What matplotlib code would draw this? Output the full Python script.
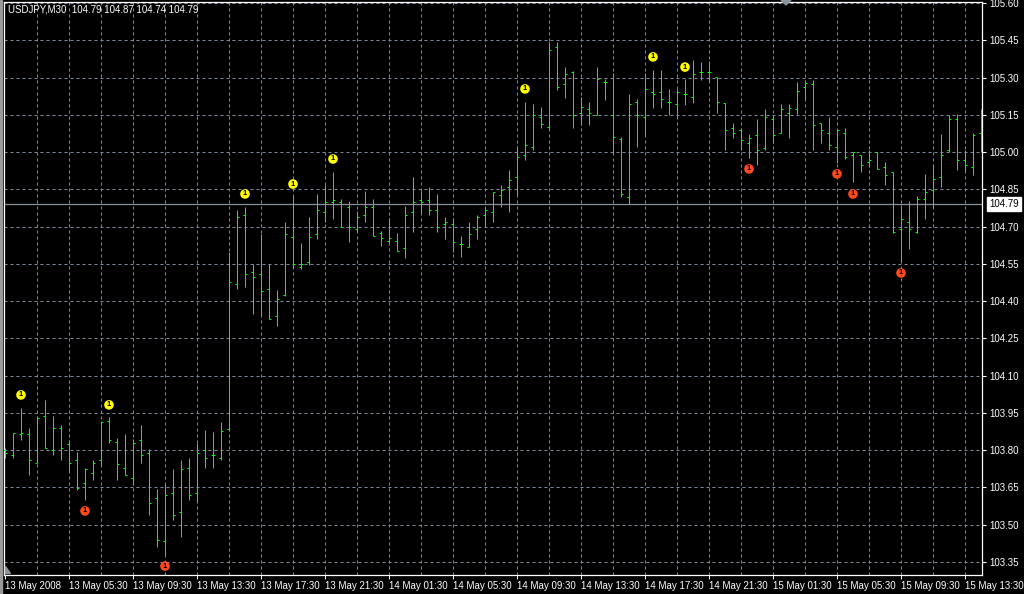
import matplotlib
matplotlib.use("Agg")
import matplotlib.pyplot as plt
from matplotlib.patches import Polygon, Rectangle
import numpy as np

# ---------------- data ----------------
symbol_header = "USDJPY,M30  104.79 104.87 104.74 104.79"

opens = [103.800, 103.780, 103.863, 103.863, 103.749, 103.939, 103.800, 103.890, 103.823, 103.761,
         103.669, 103.709, 103.761, 103.917, 103.832, 103.729, 103.689, 103.840, 103.789, 103.609,
         103.432, 103.629, 103.552, 103.729, 103.629, 103.801, 103.781, 103.769, 103.883, 104.470,
         104.747, 104.518, 104.510, 104.450, 104.341, 104.423, 104.659, 104.538, 104.558, 104.671,
         104.759, 104.800, 104.800, 104.780, 104.692, 104.748, 104.780, 104.672, 104.640, 104.640,
         104.612, 104.760, 104.808, 104.807, 104.767, 104.711, 104.711, 104.630, 104.617, 104.691,
         104.747, 104.759, 104.827, 104.859, 104.900, 104.990, 105.022, 105.139, 105.099, 105.422,
         105.272, 105.321, 105.159, 105.172, 105.151, 105.280, 105.151, 105.052, 104.820, 105.200,
         105.139, 105.240, 105.240, 105.200, 105.192, 105.232, 105.220, 105.321, 105.321, 105.301,
         105.199, 105.098, 105.090, 105.038, 105.070, 105.018, 105.131, 105.078, 105.159, 105.172,
         105.260, 105.273, 105.118, 105.078, 105.022, 105.078, 104.989, 104.989, 104.961, 105.001,
         104.941, 104.921, 104.691, 104.719, 104.679, 104.809, 104.849, 104.901, 105.009, 105.131,
         104.969, 104.941, 105.078]
highs = [103.809, 103.870, 103.970, 103.890, 103.937, 104.000, 103.939, 103.899, 103.839, 103.792,
         103.729, 103.762, 103.919, 103.933, 103.850, 103.863, 103.843, 103.899, 103.803, 103.642,
         103.662, 103.722, 103.762, 103.769, 103.829, 103.879, 103.872, 103.912, 104.598, 104.768,
         104.779, 104.550, 104.671, 104.550, 104.443, 104.720, 104.822, 104.632, 104.740, 104.829,
         104.869, 104.921, 104.809, 104.801, 104.761, 104.843, 104.809, 104.681, 104.735, 104.673,
         104.781, 104.901, 104.843, 104.861, 104.829, 104.739, 104.735, 104.660, 104.719, 104.747,
         104.780, 104.841, 104.867, 104.928, 105.024, 105.200, 105.193, 105.180, 105.442, 105.442,
         105.341, 105.328, 105.220, 105.200, 105.341, 105.294, 105.317, 105.059, 105.233, 105.213,
         105.317, 105.330, 105.330, 105.254, 105.254, 105.294, 105.371, 105.364, 105.367, 105.301,
         105.199, 105.118, 105.098, 105.071, 105.132, 105.172, 105.148, 105.192, 105.192, 105.280,
         105.291, 105.291, 105.118, 105.139, 105.092, 105.098, 105.001, 104.989, 105.009, 105.001,
         104.961, 104.921, 104.788, 104.801, 104.821, 104.910, 104.953, 105.071, 105.148, 105.152,
         105.009, 105.078, 105.172]
lows = [103.767, 103.767, 103.840, 103.700, 103.746, 103.809, 103.780, 103.760, 103.713, 103.639,
        103.599, 103.680, 103.736, 103.829, 103.680, 103.700, 103.658, 103.746, 103.538, 103.410,
        103.374, 103.517, 103.451, 103.599, 103.591, 103.726, 103.726, 103.760, 103.876, 104.447,
        104.456, 104.347, 104.340, 104.329, 104.300, 104.420, 104.534, 104.530, 104.547, 104.648,
        104.717, 104.729, 104.700, 104.639, 104.679, 104.719, 104.660, 104.620, 104.632, 104.600,
        104.572, 104.679, 104.753, 104.746, 104.677, 104.649, 104.597, 104.577, 104.617, 104.649,
        104.703, 104.717, 104.778, 104.758, 104.822, 104.968, 105.009, 105.098, 105.092, 105.251,
        105.219, 105.096, 105.110, 105.110, 105.151, 105.211, 104.998, 104.820, 104.790, 105.022,
        105.065, 105.178, 105.178, 105.151, 105.138, 105.189, 105.197, 105.291, 105.287, 105.157,
        105.008, 105.057, 105.008, 104.977, 104.948, 105.008, 105.038, 105.078, 105.057, 105.152,
        105.210, 105.008, 105.038, 105.008, 104.957, 104.970, 104.879, 104.919, 104.941, 104.930,
        104.867, 104.672, 104.558, 104.610, 104.672, 104.731, 104.775, 104.859, 105.001, 104.927,
        104.919, 104.907, 105.001]
closes = [103.789, 103.870, 103.870, 103.761, 103.930, 103.809, 103.890, 103.809, 103.749, 103.649,
          103.722, 103.749, 103.912, 103.840, 103.742, 103.700, 103.830, 103.780, 103.588, 103.438,
          103.619, 103.540, 103.722, 103.621, 103.789, 103.769, 103.781, 103.876, 104.478, 104.739,
          104.510, 104.498, 104.442, 104.329, 104.410, 104.671, 104.550, 104.550, 104.659, 104.767,
          104.799, 104.808, 104.700, 104.700, 104.740, 104.780, 104.660, 104.652, 104.652, 104.600,
          104.748, 104.800, 104.800, 104.767, 104.699, 104.719, 104.638, 104.630, 104.671, 104.739,
          104.767, 104.839, 104.847, 104.888, 104.980, 105.030, 105.151, 105.111, 105.410, 105.260,
          105.313, 105.151, 105.180, 105.159, 105.293, 105.280, 105.059, 104.830, 105.192, 105.151,
          105.252, 105.232, 105.212, 105.200, 105.240, 105.232, 105.313, 105.321, 105.321, 105.200,
          105.090, 105.078, 105.050, 105.058, 105.009, 105.139, 105.070, 105.172, 105.179, 105.246,
          105.277, 105.110, 105.090, 105.030, 105.090, 104.981, 105.001, 104.949, 104.969, 104.930,
          104.909, 104.679, 104.731, 104.691, 104.809, 104.840, 104.890, 104.989, 105.131, 104.969,
          104.949, 105.070, 105.060]

up_signal_bars = [2, 13, 30, 36, 41, 65, 81, 85]
up_signal_prices = [104.022, 103.982, 104.831, 104.871, 104.972, 105.254, 105.383, 105.342]
down_signal_bars = [10, 20, 93, 104, 106, 112]
down_signal_prices = [103.555, 103.333, 104.932, 104.912, 104.831, 104.513]

time_label_bars = [0, 8, 16, 24, 32, 40, 48, 56, 64, 72, 80, 88, 96, 104, 112, 120]
time_labels = ['13 May 2008', '13 May 05:30', '13 May 09:30', '13 May 13:30', '13 May 17:30',
               '13 May 21:30', '14 May 01:30', '14 May 05:30', '14 May 09:30', '14 May 13:30',
               '14 May 17:30', '14 May 21:30', '15 May 01:30', '15 May 05:30', '15 May 09:30',
               '15 May 13:30']
price_ticks = [103.35, 103.50, 103.65, 103.80, 103.95, 104.10, 104.25, 104.40, 104.55,
               104.70, 104.85, 105.00, 105.15, 105.30, 105.45, 105.60]
bid_price = 104.79

# ---------------- style ----------------
W, H = 1024, 594
BAR = '#00ff00'
GRID = '#7d8a9a'
FONT = ['Liberation Sans', 'DejaVu Sans']
FS = 7

fig = plt.figure(figsize=(W / 100, H / 100), dpi=100, facecolor='black')
ax_left, ax_right, ax_top, ax_bottom = 4, 982, 2, 575
ax = fig.add_axes([ax_left / W, (H - ax_bottom) / H, (ax_right - ax_left) / W, (ax_bottom - ax_top) / H])
ax.set_facecolor('black')

x = np.arange(len(opens))
ax.set_xlim(-0.125, len(opens) - 1 + 0.125)
ax.set_ylim(103.297, 105.604)

# grid
for p in price_ticks:
    ax.axhline(p, color=GRID, lw=0.72, ls=(0, (3, 3)), zorder=1)
for b in range(4, len(opens), 4):
    ax.axvline(b, color=GRID, lw=0.72, ls=(0, (3, 3)), zorder=1)

# bid line
ax.axhline(bid_price, color='#8a9098', lw=0.9, zorder=2)

# OHLC bars
tick = 0.3
LW = 0.72
for xi, o, h, l, c in zip(x, opens, highs, lows, closes):
    ax.plot([xi, xi], [l, h], color=BAR, lw=LW, solid_capstyle='butt', snap=True, zorder=3)
    ax.plot([xi - tick, xi], [o, o], color=BAR, lw=LW, solid_capstyle='butt', snap=True, zorder=3)
    ax.plot([xi, xi + tick], [c, c], color=BAR, lw=LW, solid_capstyle='butt', snap=True, zorder=3)

# signal markers
for bx, py in zip(up_signal_bars, up_signal_prices):
    ax.scatter([bx], [py], s=48, color='#ffff00', edgecolors='none', zorder=5)
    ax.text(bx, py, '1', color='black', fontsize=5.5, fontweight='bold', ha='center', va='center',
            family=FONT, zorder=6)
for bx, py in zip(down_signal_bars, down_signal_prices):
    ax.scatter([bx], [py], s=48, color='#ff4a1a', edgecolors='none', zorder=5)
    ax.text(bx, py, '1', color='black', fontsize=5.5, fontweight='bold', ha='center', va='center',
            family=FONT, zorder=6)

# spines
for s in ax.spines.values():
    s.set_color('white')
    s.set_linewidth(0.9)

# axes ticks
ax.yaxis.tick_right()
ax.set_yticks(price_ticks)
ax.set_yticklabels([f'{p:.2f}' for p in price_ticks], color='white', fontsize=FS, family=FONT)
ax.tick_params(axis='y', colors='white', length=3, width=0.8, pad=2)
ax.set_xticks(time_label_bars)
ax.set_xticklabels(time_labels, color='white', fontsize=FS, family=FONT, ha='left')
ax.tick_params(axis='x', colors='white', length=3, width=0.8, pad=1.5)
for lab in ax.get_xticklabels():
    lab.set_horizontalalignment('left')

# bid price box
ax.annotate(f'{bid_price:.2f}', xy=(1.0, bid_price), xycoords=('axes fraction', 'data'),
            xytext=(5, 0), textcoords='offset points', ha='left', va='center',
            fontsize=FS, family=FONT, color='black',
            bbox=dict(boxstyle='square,pad=0.2', fc='white', ec='white'), zorder=10,
            annotation_clip=False)

# header
fig.text(8 / W, 1 - 10 / H, symbol_header, color='white', fontsize=FS, family=FONT,
         ha='left', va='center')

# window frame strip on the left and chart-shift markers
fig.patches.append(Rectangle((0, 0), 2 / W, 1, transform=fig.transFigure, color='#9a9a9a', zorder=0))
fig.patches.append(Polygon([(781 / W, 1.0), (791 / W, 1.0), (786 / W, 1 - 5 / H)], closed=True,
                           transform=fig.transFigure, color='#8c949c'))
fig.patches.append(Polygon([(5 / W, 1 - 566 / H), (5 / W, 1 - 573 / H), (10 / W, 1 - 573 / H)],
                           closed=True, transform=fig.transFigure, color='#8c949c', zorder=20))

fig.savefig('out.png', dpi=100, facecolor='black')
